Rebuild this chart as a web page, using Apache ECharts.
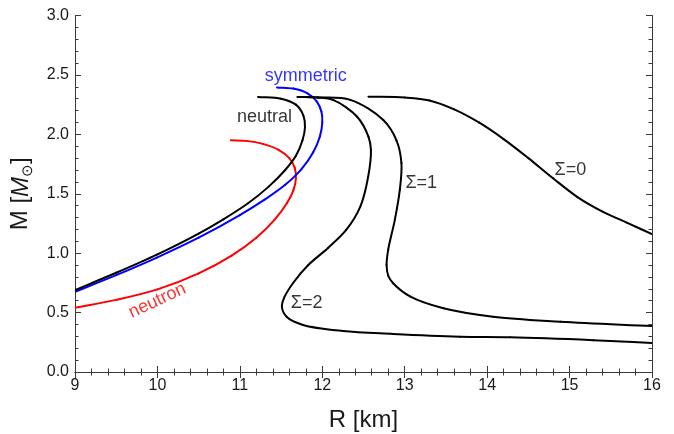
<!DOCTYPE html>
<html>
<head>
<meta charset="utf-8">
<script src="https://cdn.jsdelivr.net/npm/echarts@6/dist/echarts.min.js"></script>
<style>
  html, body { margin: 0; padding: 0; background: #fff; }
  #chart { width: 674px; height: 434px; }
</style>
</head>
<body>
<div id="chart"></div>
<script>
// Mass-radius relations: radius R [km] and mass M [solar masses]
const symmetricR = [9.0, 9.5, 10.0, 10.5, 11.0, 11.3, 11.55, 11.75, 11.89, 11.97, 12.0, 11.99, 11.93, 11.82, 11.65, 11.45];
const symmetricM = [0.675, 0.815, 0.965, 1.13, 1.32, 1.45, 1.575, 1.71, 1.85, 1.98, 2.1, 2.19, 2.28, 2.345, 2.385, 2.395];

const neutralR = [9.0, 9.5, 10.0, 10.5, 10.8, 11.1, 11.35, 11.55, 11.68, 11.76, 11.79, 11.77, 11.68, 11.5, 11.22];
const neutralM = [0.69, 0.835, 0.99, 1.165, 1.285, 1.42, 1.56, 1.70, 1.82, 1.95, 2.06, 2.16, 2.25, 2.30, 2.315];

const neutronR = [9.0, 9.5, 10.0, 10.5, 10.9, 11.2, 11.42, 11.57, 11.65, 11.68, 11.665, 11.6, 11.47, 11.28, 11.08, 10.89];
const neutronM = [0.54, 0.607, 0.695, 0.83, 0.98, 1.13, 1.28, 1.42, 1.53, 1.63, 1.72, 1.80, 1.87, 1.92, 1.945, 1.95];

const sigma0R = [12.56, 13.0, 13.3, 13.6, 13.9, 14.2, 14.5, 14.8, 15.1, 15.4, 15.7, 16.0];
const sigma0M = [2.317, 2.31, 2.285, 2.21, 2.10, 1.96, 1.80, 1.63, 1.47, 1.35, 1.255, 1.16];

const sigma1R = [11.70, 11.95, 12.34, 12.74, 12.90, 12.96, 12.94, 12.88, 12.80, 12.78, 12.80, 12.86, 13.07, 13.47, 14.07, 14.89, 16.0];
const sigma1M = [2.315, 2.31, 2.29, 2.12, 1.95, 1.76, 1.53, 1.28, 1.03, 0.90, 0.81, 0.747, 0.634, 0.536, 0.465, 0.423, 0.387];

const sigma2R = [11.70, 11.95, 12.13, 12.42, 12.56, 12.59, 12.556, 12.46, 12.29, 12.07, 11.83, 11.646, 11.536, 11.51, 11.57, 11.767, 12.25, 12.86, 13.67, 14.28, 15.29, 16.0];
const sigma2M = [2.315, 2.31, 2.29, 2.15, 1.98, 1.87, 1.641, 1.389, 1.195, 1.044, 0.90, 0.749, 0.623, 0.547, 0.463, 0.396, 0.345, 0.32, 0.297, 0.292, 0.268, 0.245];

// Curve annotations
const labelText = ['symmetric', 'neutral', 'neutron', 'Σ=0', 'Σ=1', 'Σ=2'];
const labelR = [11.80, 11.30, 10.0, 15.01, 13.20, 11.81];
const labelM = [2.487, 2.142, 0.60, 1.70, 1.59, 0.58];

// Axis ticks
const xTicks = [9, 10, 11, 12, 13, 14, 15, 16];
const yTicks = [0.0, 0.5, 1.0, 1.5, 2.0, 2.5, 3.0];

const zip = (xs, ys) => xs.map((x, i) => [x, ys[i]]);

const FONT = '"Liberation Sans", Arial, sans-serif';
const AXIS_COLOR = '#3a3a3a';

function frameAxis(extra) {
  return Object.assign({
    type: 'value',
    axisLine: { show: true, lineStyle: { color: AXIS_COLOR, width: 1 } },
    axisTick: { show: true, inside: true, length: 6, lineStyle: { color: AXIS_COLOR } },
    minorTick: { show: true, splitNumber: 5, length: 3.5, lineStyle: { color: AXIS_COLOR } },
    splitLine: { show: false },
    minorSplitLine: { show: false }
  }, extra);
}

const xMin = xTicks[0], xMax = xTicks[xTicks.length - 1];
const yMin = yTicks[0], yMax = yTicks[yTicks.length - 1];
const xStep = xTicks[1] - xTicks[0], yStep = yTicks[1] - yTicks[0];

const chart = echarts.init(document.getElementById('chart'), null, { renderer: 'canvas' });

// Centripetal Catmull-Rom spline through the projected points, emitted as cubic Bezier pieces
function splinePieces(pts) {
  const n = pts.length;
  const get = i => {
    if (i < 0) return [2 * pts[0][0] - pts[1][0], 2 * pts[0][1] - pts[1][1]];
    if (i >= n) return [2 * pts[n - 1][0] - pts[n - 2][0], 2 * pts[n - 1][1] - pts[n - 2][1]];
    return pts[i];
  };
  const dist = (a, b) => Math.max(1e-6, Math.sqrt(Math.hypot(b[0] - a[0], b[1] - a[1])));
  const pieces = [];
  for (let i = 0; i < n - 1; i++) {
    const p0 = get(i - 1), p1 = get(i), p2 = get(i + 1), p3 = get(i + 2);
    const d1 = dist(p0, p1), d2 = dist(p1, p2), d3 = dist(p2, p3);
    const c1 = [0, 1].map(k =>
      (d1 * d1 * p2[k] - d2 * d2 * p0[k] + (2 * d1 * d1 + 3 * d1 * d2 + d2 * d2) * p1[k]) / (3 * d1 * (d1 + d2)));
    const c2 = [0, 1].map(k =>
      (d3 * d3 * p1[k] - d2 * d2 * p3[k] + (2 * d3 * d3 + 3 * d3 * d2 + d2 * d2) * p2[k]) / (3 * d3 * (d3 + d2)));
    pieces.push({ x1: p1[0], y1: p1[1], cpx1: c1[0], cpy1: c1[1], cpx2: c2[0], cpy2: c2[1], x2: p2[0], y2: p2[1] });
  }
  return pieces;
}

const curveSeries = (name, xs, ys, color) => {
  const data = zip(xs, ys);
  return {
    name, type: 'custom', data, clip: true, z: 3, silent: true,
    renderItem: (params, api) => {
      if (params.dataIndex !== 0) return null;
      const pts = data.map(p => api.coord(p));
      return {
        type: 'group',
        children: splinePieces(pts).map(shape => ({
          type: 'bezierCurve', shape,
          style: { stroke: color, lineWidth: 2, fill: 'none', lineCap: 'round', lineJoin: 'round' }
        }))
      };
    }
  };
};

const labelColors = ['#0000ff', '#000', '#ff0000', '#000', '#000', '#000'];
const labelRotate = [0, 0, 25, 0, 0, 0];

chart.setOption({
  animation: false,
  backgroundColor: '#fff',
  textStyle: { fontFamily: FONT },
  grid: { left: 75, right: 22, top: 15.5, bottom: 62, containLabel: false, outerBoundsMode: 'none' },
  xAxis: [
    frameAxis({
      position: 'bottom', min: xMin, max: xMax, interval: xStep,
      axisLabel: { show: true, color: '#1a1a1a', fontSize: 16, margin: 6, fontFamily: FONT },
      name: 'R [km]', nameLocation: 'middle', nameGap: 36,
      nameTextStyle: { fontSize: 24, color: '#1a1a1a', fontFamily: FONT }
    }),
    frameAxis({
      position: 'top', min: xMin, max: xMax, interval: xStep,
      axisLabel: { show: false }
    })
  ],
  yAxis: [
    frameAxis({
      position: 'left', min: yMin, max: yMax, interval: yStep,
      axisLabel: { show: true, color: '#1a1a1a', fontSize: 16, margin: 6, fontFamily: FONT,
        formatter: v => v.toFixed(1) },
      name: '{m|M [}{i|M}{s|⊙}{m|]}', nameLocation: 'middle', nameRotate: 90, nameGap: 38,
      nameTextStyle: {
        fontFamily: FONT, color: '#1a1a1a',
        rich: {
          m: { fontSize: 24, fontFamily: FONT, color: '#1a1a1a', lineHeight: 30, verticalAlign: 'middle' },
          i: { fontSize: 24, fontFamily: FONT, fontStyle: 'italic', color: '#1a1a1a', lineHeight: 30, verticalAlign: 'middle' },
          s: { fontSize: 15, fontFamily: FONT, color: '#1a1a1a', lineHeight: 30, verticalAlign: 'bottom' }
        }
      }
    }),
    frameAxis({
      position: 'right', min: yMin, max: yMax, interval: yStep,
      axisLabel: { show: false }
    })
  ],
  series: [
    curveSeries('neutron', neutronR, neutronM, '#ff0000'),
    curveSeries('symmetric', symmetricR, symmetricM, '#0000ff'),
    curveSeries('neutral', neutralR, neutralM, '#000000'),
    curveSeries('Σ=0', sigma0R, sigma0M, '#000000'),
    curveSeries('Σ=1', sigma1R, sigma1M, '#000000'),
    curveSeries('Σ=2', sigma2R, sigma2M, '#000000'),
    {
      name: 'labels', type: 'scatter', symbolSize: 1, z: 5,
      itemStyle: { color: 'transparent' },
      data: labelText.map((t, i) => ({
        value: [labelR[i], labelM[i]],
        label: {
          show: true, position: 'inside', formatter: t,
          color: labelColors[i], fontSize: 18, fontFamily: FONT,
          rotate: labelRotate[i]
        }
      })),
      silent: true
    }
  ]
});
</script>
</body>
</html>
